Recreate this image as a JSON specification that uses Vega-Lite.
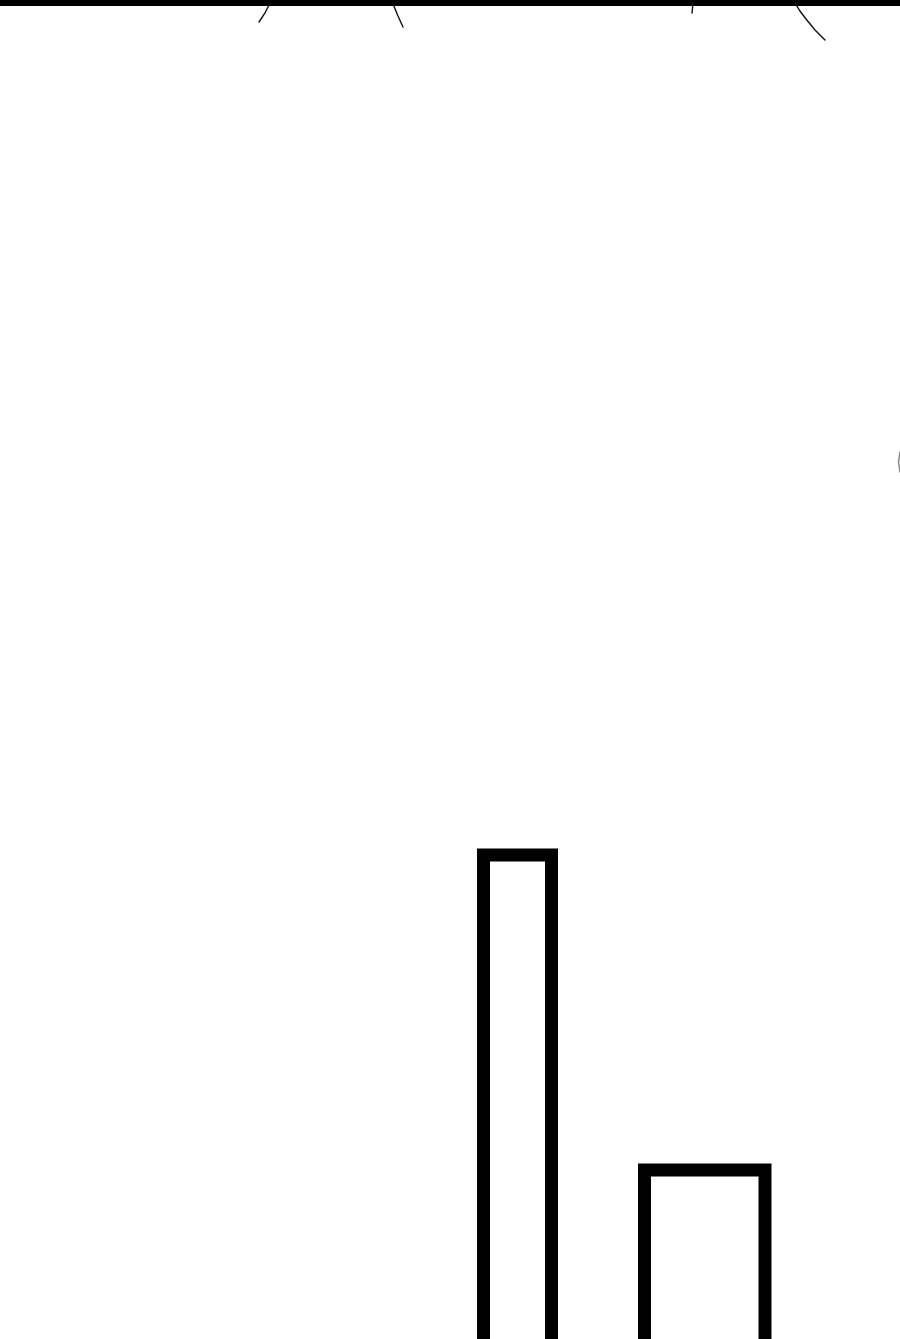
{
  "$schema": "https://vega.github.io/schema/vega-lite/v6.json",
  "width": 900,
  "height": 1339,
  "padding": 0,
  "autosize": {"type": "none"},
  "background": "#ffffff",
  "config": {"view": {"stroke": null}},
  "datasets": {
    "frame": [{"left": 0, "right": 900, "top": 0, "bottom": 6}],
    "strokes": [
      {"stroke": "a", "i": 0, "x": 270, "y": 3},
      {"stroke": "a", "i": 1, "x": 265, "y": 13},
      {"stroke": "a", "i": 2, "x": 259, "y": 22},
      {"stroke": "b", "i": 0, "x": 393, "y": 4},
      {"stroke": "b", "i": 1, "x": 398, "y": 16},
      {"stroke": "b", "i": 2, "x": 403, "y": 27},
      {"stroke": "c", "i": 0, "x": 693, "y": 3},
      {"stroke": "c", "i": 1, "x": 692, "y": 13},
      {"stroke": "d", "i": 0, "x": 795, "y": 3},
      {"stroke": "d", "i": 1, "x": 800, "y": 11},
      {"stroke": "d", "i": 2, "x": 806, "y": 19},
      {"stroke": "d", "i": 3, "x": 815, "y": 30},
      {"stroke": "d", "i": 4, "x": 825, "y": 40}
    ],
    "edge": [
      {"i": 0, "x": 900, "y": 452},
      {"i": 1, "x": 898.5, "y": 462},
      {"i": 2, "x": 900, "y": 472}
    ],
    "boxes": [
      {"box": "tall", "left": 483.5, "right": 551.5, "top": 855, "bottom": 1400},
      {"box": "short", "left": 644.5, "right": 765, "top": 1170, "bottom": 1400}
    ]
  },
  "layer": [
    {
      "data": {"name": "frame"},
      "mark": {"type": "rect", "color": "#000000", "clip": true},
      "encoding": {
        "x": {"field": "left", "type": "quantitative", "scale": {"domain": [0, 900], "nice": false, "zero": false}, "axis": null},
        "x2": {"field": "right"},
        "y": {"field": "top", "type": "quantitative", "scale": {"domain": [0, 1339], "nice": false, "zero": false, "reverse": true}, "axis": null},
        "y2": {"field": "bottom"}
      }
    },
    {
      "data": {"name": "strokes"},
      "mark": {"type": "line", "color": "#111111", "strokeWidth": 1.4, "strokeCap": "round", "clip": true},
      "encoding": {
        "x": {"field": "x", "type": "quantitative"},
        "y": {"field": "y", "type": "quantitative"},
        "detail": {"field": "stroke"},
        "order": {"field": "i"}
      }
    },
    {
      "data": {"name": "edge"},
      "mark": {"type": "line", "color": "#888888", "strokeWidth": 1.5, "strokeCap": "round", "clip": true},
      "encoding": {
        "x": {"field": "x", "type": "quantitative"},
        "y": {"field": "y", "type": "quantitative"},
        "order": {"field": "i"}
      }
    },
    {
      "data": {"name": "boxes"},
      "mark": {"type": "rect", "fill": "#ffffff", "stroke": "#000000", "strokeWidth": 13, "strokeJoin": "miter", "clip": true},
      "encoding": {
        "x": {"field": "left", "type": "quantitative"},
        "x2": {"field": "right"},
        "y": {"field": "top", "type": "quantitative"},
        "y2": {"field": "bottom"},
        "detail": {"field": "box"}
      }
    }
  ]
}
